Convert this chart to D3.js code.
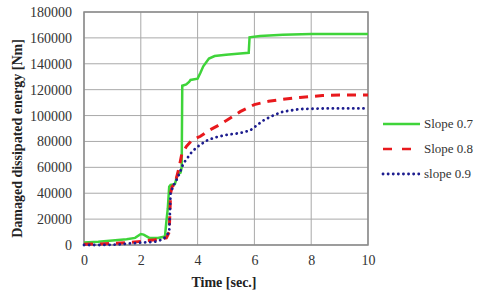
<!DOCTYPE html>
<html>
<head>
<meta charset="utf-8">
<script src="https://cdn.jsdelivr.net/npm/d3@7"></script>
<style>
  body { margin: 0; background: #fff; }
  svg text { font-family: "Liberation Serif"; }
</style>
</head>
<body>
<div id="chart"></div>
<script>
// values
const xTicks = [0, 2, 4, 6, 8, 10];
const yTicks = [0, 20000, 40000, 60000, 80000, 100000, 120000, 140000, 160000, 180000];
const seriesNames = ["Slope 0.7", "Slope 0.8", "slope 0.9"];

const t07 = [0, 0.5, 1.0, 1.5, 1.8, 2.0, 2.1, 2.3, 2.6, 2.85, 2.9, 2.95, 3.0, 3.05, 3.2, 3.3, 3.4, 3.44, 3.46, 3.6, 3.7, 3.75, 4.0, 4.1, 4.2, 4.4, 4.6, 5.0, 5.5, 5.8, 5.83, 6.2, 7.0, 8.0, 10];
const v07 = [2000, 2500, 3500, 4500, 5500, 8500, 8000, 5500, 5500, 6500, 18000, 28000, 45000, 46500, 47000, 55000, 56000, 60000, 123000, 124000, 126000, 127500, 128500, 133000, 138000, 144000, 146000, 147000, 148000, 148500, 160500, 161500, 162500, 163000, 163000];

const t08 = [0, 0.5, 1.0, 1.5, 2.0, 2.5, 2.9, 3.0, 3.05, 3.1, 3.2, 3.35, 3.44, 3.6, 3.8, 4.1, 4.4, 4.7, 5.0, 5.5, 6.0, 6.5, 7.0, 7.6, 8.4, 9.0, 10];
const v08 = [500, 800, 1200, 1800, 2800, 4000, 5500, 10000, 40000, 45000, 47000, 60000, 70000, 76000, 81000, 84000, 88500, 92000, 96000, 103000, 108500, 111000, 112500, 114000, 115500, 115800, 115800];

const t09 = [0, 0.5, 1.0, 1.3, 1.6, 2.0, 2.5, 2.8, 3.0, 3.05, 3.15, 3.3, 3.5, 3.8, 4.0, 4.3, 4.6, 5.0, 5.5, 5.85, 6.0, 6.3, 6.6, 7.0, 7.6, 8.5, 10];
const v09 = [0, 0, 200, 600, 1200, 1800, 2500, 4500, 10000, 40000, 46000, 52000, 63000, 72000, 76000, 80500, 83000, 85000, 86500, 88500, 91000, 96000, 99500, 103000, 105000, 105500, 105500];

const colors = ["#3fd43a", "#e8191d", "#1d1d8f"];
const dashes = [null, "9,7", "0.1,5"];

const W = 480, H = 294;
const margin = { left: 84, right: 112, top: 12, bottom: 49 };
const width = W - margin.left - margin.right;
const height = H - margin.top - margin.bottom;

const svg = d3.select("#chart").append("svg")
  .attr("width", W)
  .attr("height", H);

const g = svg.append("g")
  .attr("transform", "translate(" + margin.left + "," + margin.top + ")");

const x = d3.scaleLinear().domain([0, 10]).range([0, width]);
const y = d3.scaleLinear().domain([0, 180000]).range([height, 0]);

// grid
g.append("g").selectAll("line.v")
  .data(xTicks)
  .enter().append("line")
  .attr("x1", d => x(d)).attr("x2", d => x(d))
  .attr("y1", 0).attr("y2", height)
  .attr("stroke", "#a9a9a9").attr("stroke-width", 1);
g.append("g").selectAll("line.h")
  .data(yTicks)
  .enter().append("line")
  .attr("x1", 0).attr("x2", width)
  .attr("y1", d => y(d)).attr("y2", d => y(d))
  .attr("stroke", "#a9a9a9").attr("stroke-width", 1);

g.append("rect")
  .attr("width", width).attr("height", height)
  .attr("fill", "none").attr("stroke", "#8a8a8a").attr("stroke-width", 1.5);

// axes
const xAxis = g.append("g")
  .attr("transform", "translate(0," + height + ")")
  .call(d3.axisBottom(x).tickValues(xTicks).tickFormat(d3.format("d")).tickSize(0).tickPadding(10));
const yAxis = g.append("g")
  .call(d3.axisLeft(y).tickValues(yTicks).tickFormat(d3.format("d")).tickSize(0).tickPadding(12));
[xAxis, yAxis].forEach(a => {
  a.attr("font-family", null).attr("font-size", null);
  a.select(".domain").remove();
  a.selectAll("text")
    .style("font-family", "Liberation Serif")
    .style("font-size", "14px")
    .attr("fill", "#333");
});

// lines
const line = d3.line()
  .x(d => x(d[0]))
  .y(d => y(d[1]));

const series = [
  d3.zip(t07, v07),
  d3.zip(t08, v08),
  d3.zip(t09, v09)
];

series.forEach((s, i) => {
  g.append("path")
    .datum(s)
    .attr("d", line)
    .attr("fill", "none")
    .attr("stroke", colors[i])
    .attr("stroke-width", i == 1 ? 3 : (i == 2 ? 2.8 : 2.5))
    .attr("stroke-dasharray", dashes[i])
    .attr("stroke-linecap", i == 2 ? "round" : "butt");
});

// axis titles
svg.append("text")
  .attr("x", margin.left + x(5) - 2)
  .attr("y", 287)
  .attr("text-anchor", "middle")
  .style("font-family", "Liberation Serif")
  .style("font-size", "14px")
  .style("font-weight", "bold")
  .attr("fill", "#222")
  .text("Time  [sec.]");

svg.append("text")
  .attr("transform", "translate(22," + (margin.top + height / 2 + 10) + ") rotate(-90)")
  .attr("text-anchor", "middle")
  .style("font-family", "Liberation Serif")
  .style("font-size", "14px")
  .style("font-weight", "bold")
  .attr("fill", "#222")
  .text("Damaged  dissipated  energy  [Nm]");

// legend
const legend = svg.append("g");
seriesNames.forEach((name, i) => {
  const ly = 124 + i * 25;
  legend.append("line")
    .attr("x1", 383).attr("x2", 420)
    .attr("y1", ly).attr("y2", ly)
    .attr("stroke", colors[i])
    .attr("stroke-width", i == 2 ? 2.8 : 2.5)
    .attr("stroke-dasharray", i == 1 ? "9,10" : dashes[i])
    .attr("stroke-linecap", i == 2 ? "round" : "butt");
  legend.append("text")
    .attr("x", 424).attr("y", ly + 4)
    .style("font-family", "Liberation Serif")
    .style("font-size", "13px")
    .attr("fill", "#333")
    .text(name);
});
</script>
</body>
</html>
